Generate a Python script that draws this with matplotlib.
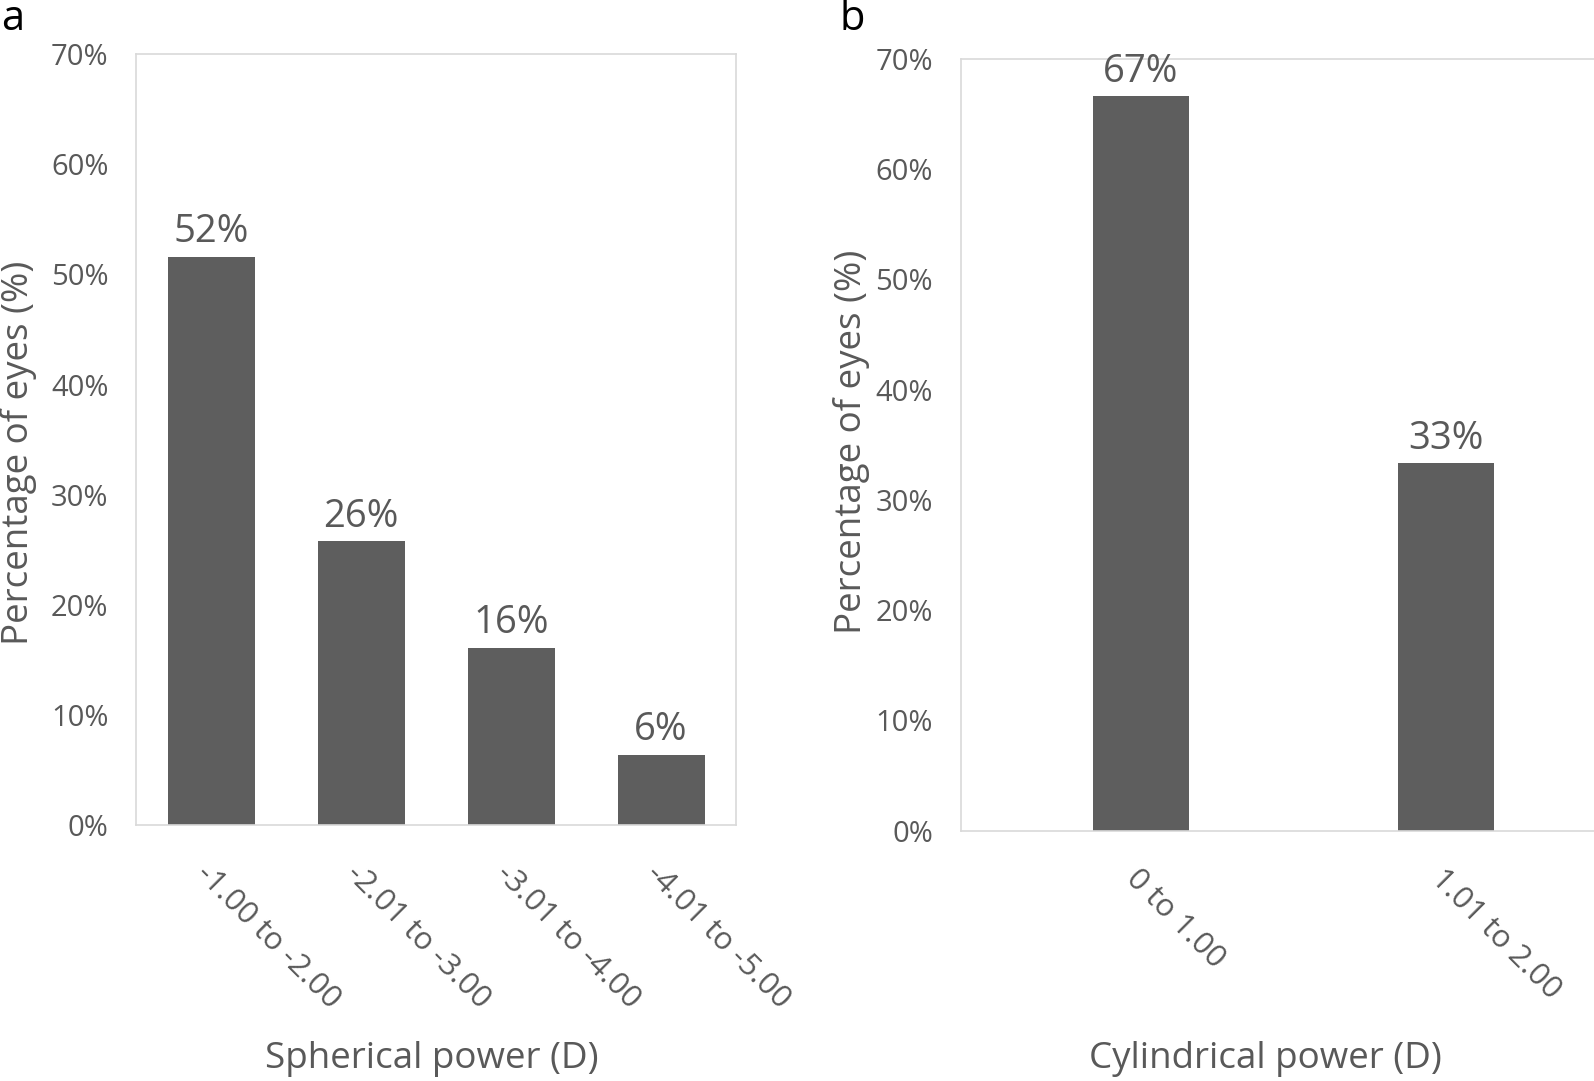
import matplotlib.pyplot as plt

plt.rcParams['font.family'] = ['Open Sans', 'DejaVu Sans']

sph_labels = ['-1.00 to -2.00', '-2.01 to -3.00', '-3.01 to -4.00', '-4.01 to -5.00']
sph_values = [51.6, 25.8, 16.1, 6.4]
sph_text = ['52%', '26%', '16%', '6%']

cyl_labels = ['0 to 1.00', '1.01 to 2.00']
cyl_values = [66.6, 33.3]
cyl_text = ['67%', '33%']

yticks = [0, 10, 20, 30, 40, 50, 60, 70]

W, H = 1594, 1081
S = 1594 / 1568  # positions below measured on a 1568-wide view
fig = plt.figure(figsize=(W / 100, H / 100), dpi=100)

grey = '#595959'
bar_col = '#5e5e5e'
spine_col = '#d9d9d9'


def px_axes(l, t, r, b):
    l, t, r, b = l * S, t * S, r * S, b * S
    return fig.add_axes([l / W, 1 - b / H, (r - l) / W, (b - t) / H])


def ftext(x, y, s, **kw):
    fig.text(x * S / W, 1 - y * S / H, s, **kw)


def style(ax, labels, xlim):
    ax.set_ylim(0, 70)
    ax.set_xlim(*xlim)
    ax.set_yticks(yticks)
    ax.set_yticklabels([f'{v}%' for v in yticks], fontsize=21, color=grey)
    ax.set_xticks(range(len(labels)))
    ax.set_xticklabels(labels, fontsize=22.5, color=grey, rotation=-45,
                       ha='left', va='top', rotation_mode='anchor')
    ax.tick_params(axis='y', length=0, pad=20)
    ax.tick_params(axis='x', length=0, pad=24)
    for s in ax.spines.values():
        s.set_color(spine_col)
        s.set_linewidth(1.2)


ax1 = px_axes(134, 53, 724, 812)
x1 = list(range(len(sph_labels)))
ax1.bar(x1, sph_values, width=0.58, color=bar_col)
for x, v, t in zip(x1, sph_values, sph_text):
    ax1.text(x, v + 0.5, t, ha='center', va='bottom', fontsize=27.5, color=grey)
style(ax1, sph_labels, (-0.5, 3.5))

ax2 = px_axes(945, 58, 1600, 817)
x2 = list(range(len(cyl_labels)))
ax2.bar(x2, cyl_values, width=0.315, color=bar_col)
for x, v, t in zip(x2, cyl_values, cyl_text):
    ax2.text(x, v + 0.5, t, ha='center', va='bottom', fontsize=27.5, color=grey)
style(ax2, cyl_labels, (-0.59, 1.59))

ftext(18, 445, 'Percentage of eyes (%)', rotation=90, ha='center',
      va='center', fontsize=26.5, color=grey)
ftext(425, 1042, 'Spherical power (D)', ha='center', va='center',
      fontsize=26.5, color=grey)
ftext(838, 435, 'Percentage of eyes (%)', rotation=90, ha='center',
      va='center', fontsize=26.5, color=grey)
ftext(1245, 1042, 'Cylindrical power (D)', ha='center', va='center',
      fontsize=26.5, color=grey)

ftext(12, 19, 'a', ha='center', va='center', fontsize=30, color='black')
ftext(838, 19, 'b', ha='center', va='center', fontsize=30, color='black')

fig.savefig('out.png', dpi=100)
